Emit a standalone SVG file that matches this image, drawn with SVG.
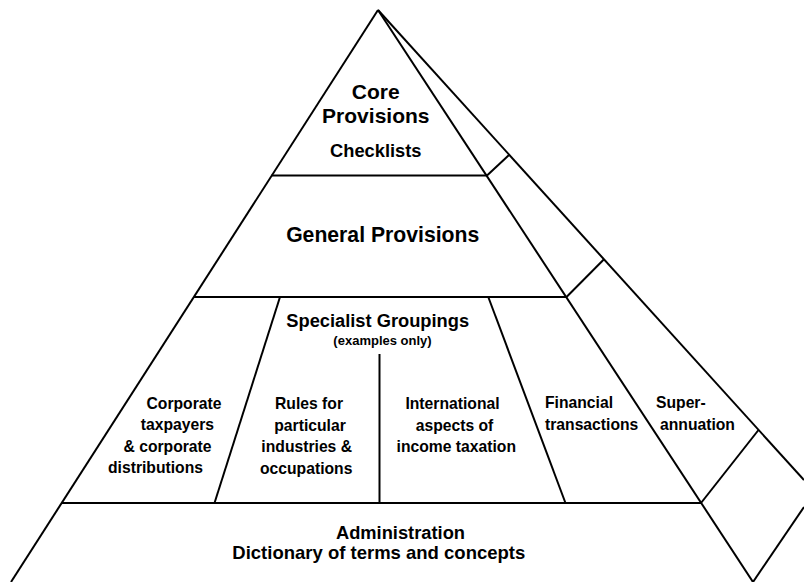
<svg xmlns="http://www.w3.org/2000/svg" width="804" height="582" viewBox="0 0 804 582">
<style>
.ln{stroke:#000;stroke-width:2;fill:none;stroke-linecap:butt;stroke-linejoin:miter}
text{font-family:"Liberation Sans",Arial,Helvetica,sans-serif;font-weight:bold;fill:#000}
.big{font-size:21px;text-anchor:middle}
.mid{font-size:18.3px;text-anchor:middle}
.sm{font-size:15.7px;text-anchor:middle}
.smL{font-size:15.7px}
.xs{font-size:13px;text-anchor:middle}
</style>
<rect x="0" y="0" width="804" height="582" fill="#fff"/>
<g id="connectors">
  <!-- pyramid outline -->
  <line class="ln" x1="378" y1="10" x2="11" y2="582"/>
  <line class="ln" x1="378" y1="10" x2="753" y2="582"/>
  <line class="ln" x1="378" y1="10" x2="804" y2="480"/>
  <line class="ln" x1="753" y1="582" x2="804" y2="507"/>
  <!-- tier lines -->
  <line class="ln" x1="271.5" y1="175.5" x2="487" y2="175.5"/>
  <line class="ln" x1="194" y1="297" x2="566.5" y2="297"/>
  <line class="ln" x1="62" y1="503" x2="701" y2="503"/>
  <!-- side face cross lines -->
  <line class="ln" x1="487" y1="175.5" x2="509" y2="155"/>
  <line class="ln" x1="566.5" y1="297" x2="604" y2="259.3"/>
  <line class="ln" x1="701" y1="503" x2="758.5" y2="430"/>
  <!-- specialist dividers -->
  <line class="ln" x1="280" y1="297" x2="214.5" y2="503"/>
  <line class="ln" x1="379.5" y1="354" x2="379.5" y2="503"/>
  <line class="ln" x1="488.3" y1="297" x2="565.5" y2="503"/>
</g>
<g id="core">
  <text class="big" x="375.8" y="99">Core</text>
  <text class="big" x="375.8" y="123.3">Provisions</text>
  <text class="mid" x="375.8" y="156.7">Checklists</text>
</g>
<g id="general">
  <text class="big" x="382.7" y="241.7" style="font-size:21.2px">General Provisions</text>
</g>
<g id="specialist">
  <text class="mid" x="377.7" y="326.7">Specialist Groupings</text>
  <text class="xs" x="382.5" y="345">(examples only)</text>
</g>
<g id="corporate">
  <text class="sm" x="184" y="409.3">Corporate</text>
  <text class="sm" x="177.4" y="430.3">taxpayers</text>
  <text class="sm" x="167.5" y="451.7">&amp; corporate</text>
  <text class="sm" x="155.5" y="472.8">distributions</text>
</g>
<g id="rules">
  <text class="sm" x="309" y="409.3">Rules for</text>
  <text class="sm" x="310" y="430.7">particular</text>
  <text class="sm" x="306.7" y="452.3">industries &amp;</text>
  <text class="sm" x="306.2" y="474">occupations</text>
</g>
<g id="international">
  <text class="sm" x="452.5" y="409.3">International</text>
  <text class="sm" x="454.5" y="430.7">aspects of</text>
  <text class="sm" x="456.3" y="452">income taxation</text>
</g>
<g id="financial">
  <text class="smL" x="545" y="408.3">Financial</text>
  <text class="smL" x="545" y="430">transactions</text>
</g>
<g id="superannuation">
  <text class="smL" x="656" y="408.3">Super-</text>
  <text class="smL" x="660" y="430">annuation</text>
</g>
<g id="administration">
  <text class="mid" x="400.5" y="539.3">Administration</text>
  <text class="mid" x="378.8" y="559" style="font-size:18.5px">Dictionary of terms and concepts</text>
</g>
</svg>
